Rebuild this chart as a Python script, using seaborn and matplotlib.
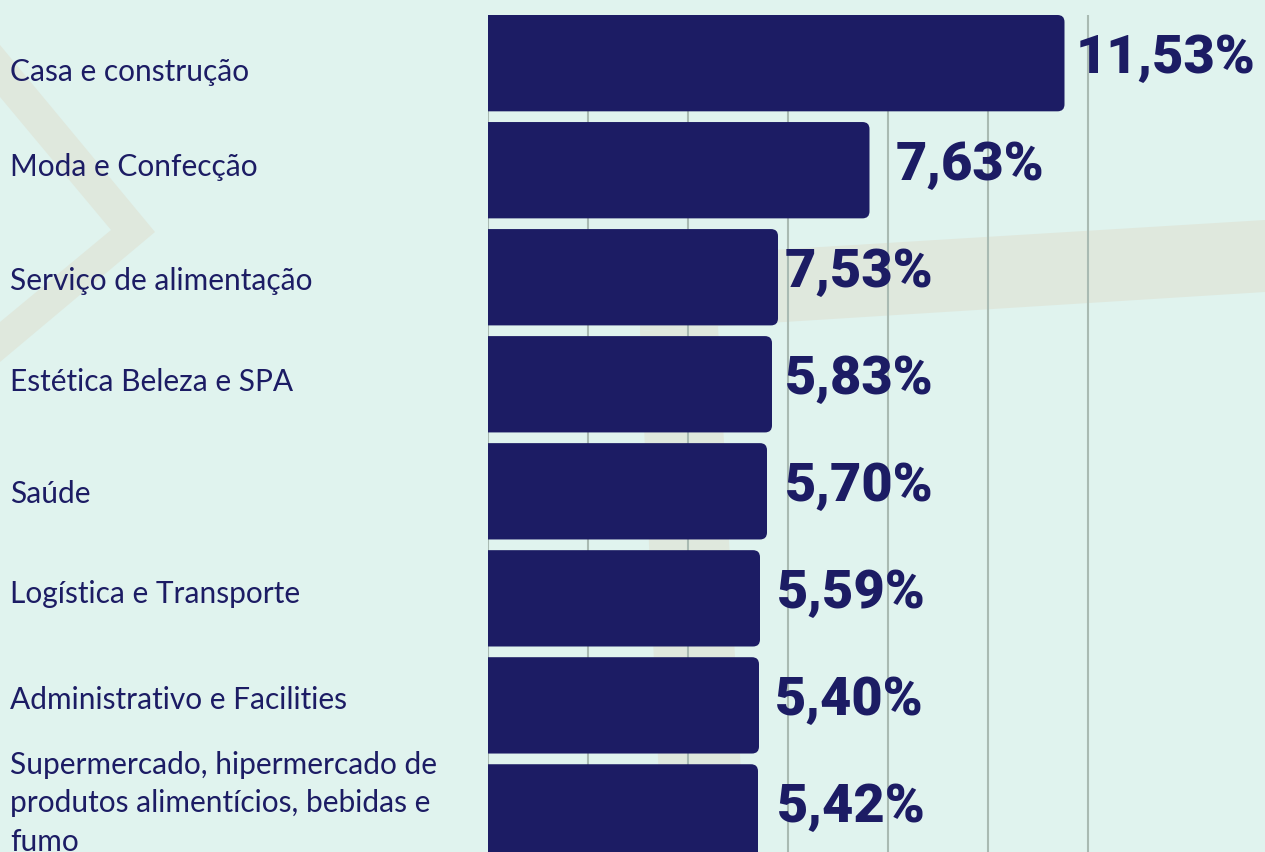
import pandas as pd
import matplotlib
matplotlib.use("Agg")
import matplotlib.pyplot as plt
import seaborn as sns
from matplotlib.patches import FancyBboxPatch, Polygon

# data
categories = [
    "Casa e construção",
    "Moda e Confecção",
    "Serviço de alimentação",
    "Estética Beleza e SPA",
    "Saúde",
    "Logística e Transporte",
    "Administrativo e Facilities",
    "Supermercado, hipermercado de\nprodutos alimentícios, bebidas e\nfumo",
]
# bar lengths as drawn (the original bars don't always match their labels)
bar_values = [11.53, 7.63, 5.80, 5.68, 5.58, 5.44, 5.42, 5.40]
value_labels = ["11,53%", "7,63%", "7,53%", "5,83%", "5,70%", "5,59%", "5,40%", "5,42%"]

# hand placement of the texts in the original (pixels)
value_dx = [11, 26, 7, 13, 18, 17, 16, 19]
name_dy = [9, -3, 4, -2, 3, -4, -5, -9]

df = pd.DataFrame({"categoria": categories, "valor": bar_values})

bg = "#e0f3ee"
navy = "#1c1c64"
deco = "#dfe8dd"

W, H = 1265, 852
fig = plt.figure(figsize=(W / 100, H / 100), dpi=100)
fig.patch.set_facecolor(bg)

# faint background decorations (pixel coords -> figure coords)
def px(points):
    return [(x / W, 1 - y / H) for x, y in points]

fig.add_artist(Polygon(px([(0, 45), (155, 232), (0, 362), (0, 322), (111, 230), (0, 97)]),
                       closed=True, facecolor=deco, edgecolor="none", zorder=0))
fig.add_artist(Polygon(px([(640, 258), (1265, 220), (1265, 292), (640, 331)]),
                       closed=True, facecolor=deco, edgecolor="none", zorder=0))
fig.add_artist(Polygon(px([(640, 331), (718, 326), (745, 852), (662, 852)]),
                       closed=True, facecolor=deco, edgecolor="none", zorder=0))

ax = fig.add_axes([488 / W, 0, 1 - 488 / W, 1 - 15 / H])
ax.set_facecolor("none")

sns.barplot(data=df, x="valor", y="categoria", orient="h", color=navy,
            width=0.9, saturation=1, ax=ax, zorder=3)

ax.set_xlim(0, (W - 488) / 50)
ax.set_ylim(7.37, -0.45)

# swap plain bars for bars with rounded right corners
px_x = 50.0
px_y = (H - 15) / (7.37 + 0.45)
for bar in list(ax.patches):
    x0, y0 = bar.get_x(), bar.get_y()
    w, h = bar.get_width(), bar.get_height()
    bar.remove()
    r = 7 / px_x
    ax.add_patch(FancyBboxPatch((x0 - 0.5, y0), w + 0.5, h,
                                boxstyle=f"round,pad=0,rounding_size={r}",
                                mutation_aspect=px_x / px_y,
                                facecolor=navy, edgecolor="none", zorder=3))

# value labels
for i, (v, lab) in enumerate(zip(bar_values, value_labels)):
    ax.annotate(lab, (v, i), xytext=(value_dx[i], 5), textcoords="offset pixels",
                va="center", ha="left", color=navy, fontsize=39,
                fontfamily="Roboto", fontweight="heavy", zorder=4)

# category names on the left
trans = matplotlib.transforms.blended_transform_factory(fig.transFigure, ax.transData)
for i, name in enumerate(categories):
    ax.annotate(name, (10 / W, i), xycoords=trans, xytext=(0, -name_dy[i]),
                textcoords="offset pixels", va="center", ha="left",
                color=navy, fontsize=21.5, fontfamily="Lato", linespacing=1.45,
                annotation_clip=False)

# vertical grid only
ax.set_xticks(range(0, 13, 2))
ax.grid(axis="x", color="#a9bab2", linewidth=1.5, zorder=0)
ax.grid(axis="y", visible=False)
ax.set_axisbelow(True)
ax.tick_params(left=False, bottom=False, labelleft=False, labelbottom=False)
ax.set_xlabel("")
ax.set_ylabel("")
for s in ax.spines.values():
    s.set_visible(False)

plt.savefig("out.png", dpi=100, facecolor=bg)
